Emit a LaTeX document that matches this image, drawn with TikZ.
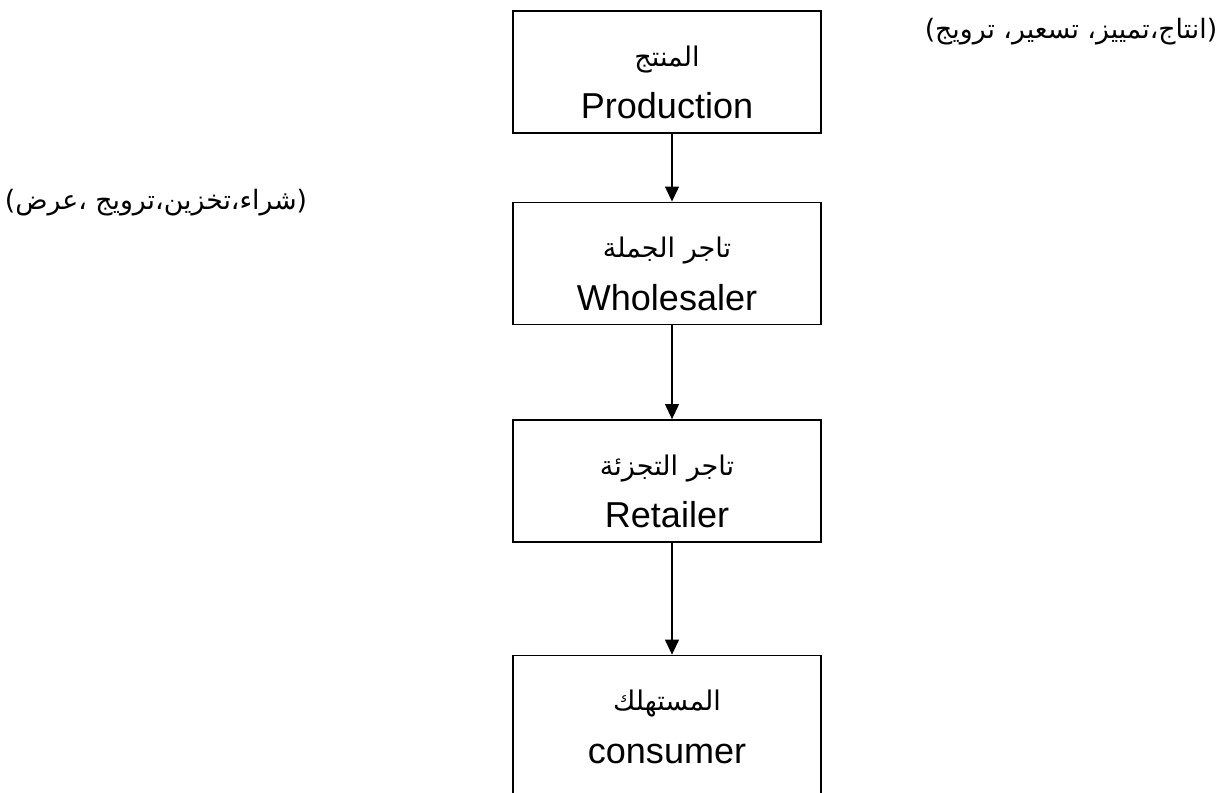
\documentclass[tikz,border=0pt]{standalone}
\usepackage{fontspec}
\setmainfont{Liberation Sans}
\newfontfamily\arabicfont[Script=Arabic]{DejaVu Sans}
\TeXXeTstate=1
\usetikzlibrary{arrows.meta,positioning}

\newcommand{\arline}[1]{{\arabicfont\fontsize{15.4}{30}\selectfont\beginR #1\endR}}

\begin{document}
\begin{tikzpicture}[
    x=0.02cm, y=-0.02cm,
    node distance=1.36cm,
    stage/.style={rectangle,draw,line width=0.9pt,minimum width=6.16cm,inner ysep=0pt,
      text height=2.16cm,text depth=0.28cm,align=center,font=\fontsize{20.5}{30}\selectfont},
    note/.style={font=\arabicfont\fontsize{15.2}{18}\selectfont},
    >={Triangle[length=0.3cm,width=0.28cm]}
  ]
  \useasboundingbox (0,0) rectangle (1228,792);

  % channel stages
  \node[stage,anchor=north] (prod) at (667,10) {\arline{المنتج}\\Production};
  \node[stage,below=of prod] (whole) {\arline{تاجر الجملة}\\Wholesaler};
  \node[stage,below=1.88cm of whole] (retail) {\arline{تاجر التجزئة}\\Retailer};
  \node[stage,below=2.24cm of retail,text depth=4cm] (cons) {\arline{المستهلك}\\consumer};

  \draw[->,line width=0.7pt] ([xshift=0.1cm]prod.south) -- ([xshift=0.1cm]whole.north);
  \draw[->,line width=0.7pt] ([xshift=0.1cm]whole.south) -- ([xshift=0.1cm]retail.north);
  \draw[->,line width=0.7pt] ([xshift=0.1cm]retail.south) -- ([xshift=0.1cm]cons.north);

  % functions of each level
  \node[note] (prodnote) at (1071,32) {\beginR(انتاج،تمييز، تسعير، ترويج)\endR};
  \node[note] (wholenote) at (156,203) {\beginR(شراء،تخزين،ترويج ،عرض)\endR};
\end{tikzpicture}
\end{document}
